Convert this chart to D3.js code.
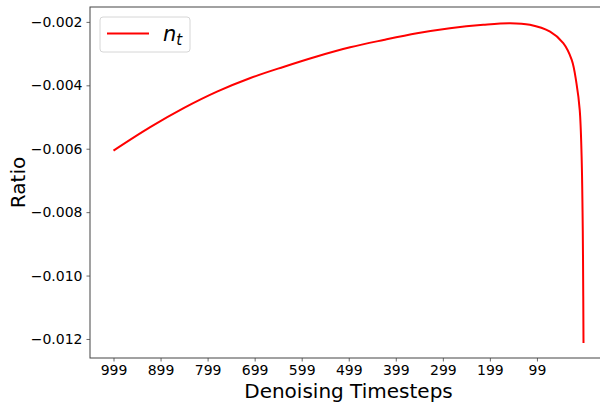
<!DOCTYPE html>
<html>
<head>
<meta charset="utf-8">
<script src="https://cdn.jsdelivr.net/npm/d3@7"></script>
<style>
  html, body { margin: 0; padding: 0; background: #fff; }
  svg { display: block; font-family: "DejaVu Sans", sans-serif; }
</style>
</head>
<body>
<div id="chart"></div>
<script>
// Points: step index (0 = timestep 999) and ratio value
const steps  = [0, 78, 149, 220, 291, 361, 432, 503, 574, 645, 715, 786, 843, 885, 928, 956, 974, 984, 991, 995, 997, 998, 999];
const ratios = [-0.00606, -0.00532, -0.00472, -0.00420, -0.00377, -0.00342, -0.00309, -0.00280, -0.00257, -0.00236,
                -0.00220, -0.00209, -0.00204, -0.00209, -0.00231, -0.00267, -0.00320, -0.00393, -0.00478, -0.00625,
                -0.0080, -0.0095, -0.01213];
const xTickPositions = [0, 100, 200, 300, 400, 500, 600, 700, 800, 900];
const xTickLabels = ['999', '899', '799', '699', '599', '499', '399', '299', '199', '99'];
const yTicks = [-0.012, -0.010, -0.008, -0.006, -0.004, -0.002];

const width = 600, height = 403;
const plot = { left: 90, right: 607, top: 7, bottom: 358 };

const svg = d3.select('#chart')
    .append('svg')
    .attr('width', width)
    .attr('height', height);

const x = d3.scaleLinear().domain([-49.95, 1048.95]).range([plot.left, plot.right]);
const y = d3.scaleLinear().domain([-0.0126, -0.00153]).range([plot.bottom, plot.top]);

const fmt = v => (v < 0 ? '\u2212' : '') + Math.abs(v).toFixed(3);

// Axes
const xAxis = d3.axisBottom(x)
    .tickValues(xTickPositions)
    .tickFormat((d, i) => xTickLabels[i])
    .tickSizeInner(3.5)
    .tickSizeOuter(0)
    .tickPadding(3.5);

const yAxis = d3.axisLeft(y)
    .tickValues(yTicks)
    .tickFormat(fmt)
    .tickSizeInner(3.5)
    .tickSizeOuter(0)
    .tickPadding(4);

const gx = svg.append('g')
    .attr('transform', `translate(0, ${plot.bottom})`)
    .call(xAxis);
const gy = svg.append('g')
    .attr('transform', `translate(${plot.left}, 0)`)
    .call(yAxis);

[gx, gy].forEach(g => {
    g.select('.domain').remove();
    g.selectAll('line').attr('stroke', '#444').attr('stroke-width', 0.8);
    g.selectAll('text')
        .attr('fill', '#000')
        .style('font-size', '14px')
        .style('font-family', '"DejaVu Sans", sans-serif');
});

// Spines (right one falls outside the picture)
svg.append('rect')
    .attr('x', plot.left)
    .attr('y', plot.top)
    .attr('width', plot.right - plot.left)
    .attr('height', plot.bottom - plot.top)
    .attr('fill', 'none')
    .attr('stroke', '#444')
    .attr('stroke-width', 1);

// Data line
const points = steps.map((s, i) => ({ s, v: ratios[i] }));
const line = d3.line()
    .x(d => x(d.s))
    .y(d => y(d.v))
    .curve(d3.curveCatmullRom.alpha(0.5));

svg.append('path')
    .datum(points)
    .attr('d', line)
    .attr('fill', 'none')
    .attr('stroke', '#ff0000')
    .attr('stroke-width', 2)
    .attr('stroke-linejoin', 'round');

// Axis labels
svg.append('text')
    .attr('x', (plot.left + plot.right) / 2)
    .attr('y', 398)
    .attr('text-anchor', 'middle')
    .style('font-size', '20px')
    .text('Denoising Timesteps');

svg.append('text')
    .attr('transform', `translate(25, ${(plot.top + plot.bottom) / 2}) rotate(-90)`)
    .attr('text-anchor', 'middle')
    .style('font-size', '20px')
    .text('Ratio');

// Legend
const legend = svg.append('g').attr('transform', 'translate(100, 17)');
legend.append('rect')
    .attr('width', 90)
    .attr('height', 35)
    .attr('rx', 3)
    .attr('fill', 'rgba(255,255,255,0.8)')
    .attr('stroke', '#d6d6d6')
    .attr('stroke-width', 1);
legend.append('line')
    .attr('x1', 7).attr('x2', 49)
    .attr('y1', 16.5).attr('y2', 16.5)
    .attr('stroke', '#ff0000')
    .attr('stroke-width', 2);
const lt = legend.append('text')
    .attr('x', 63)
    .attr('y', 24)
    .style('font-size', '21px')
    .style('font-style', 'italic');
lt.append('tspan').text('n');
lt.append('tspan')
    .attr('dy', 4)
    .style('font-size', '15px')
    .text('t');
</script>
</body>
</html>
